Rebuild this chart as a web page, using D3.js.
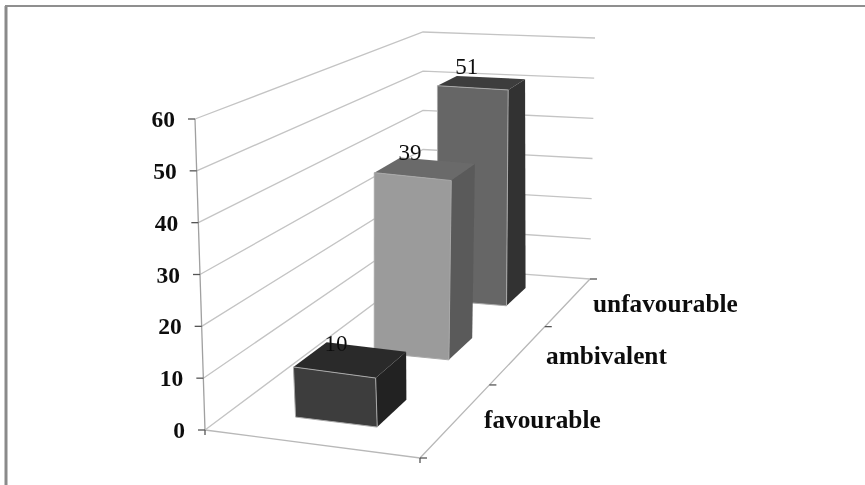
<!DOCTYPE html>
<html>
<head>
<meta charset="utf-8">
<script src="https://cdn.jsdelivr.net/npm/d3@7"></script>
<style>
  html, body { margin: 0; padding: 0; background: #fff; }
  svg { display: block; }
  text { font-family: "Liberation Serif", serif; fill: #111; }
</style>
</head>
<body>
<script>
let width = 865,
    height = 485;

let categories = ["favourable", "ambivalent", "unfavourable"];
let values = [10, 39, 51];
let yTicks = [0, 10, 20, 30, 40, 50, 60];

let barFront = ["#3d3d3d", "#9b9b9b", "#666666"];
let barTop = ["#2c2c2c", "#6b6b6b", "#3c3c3c"];
let barSide = ["#232323", "#5a5a5a", "#333333"];

let catLabelX = [484, 546, 593];
let catLabelY = [428, 364, 312];

let svg = d3.select("body")
            .append("svg")
            .attr("width", width)
            .attr("height", height);

// the reference is a soft scan, so everything gets a slight blur
svg.append("filter").attr("id", "soft")
   .append("feGaussianBlur").attr("stdDeviation", 0.5);

let chart = svg.append("g").attr("filter", "url(#soft)");

// picture frame
chart.append("path")
   .attr("d", "M6,6V485")
   .attr("stroke", "#8a8a8a")
   .attr("stroke-width", 3);
chart.append("path")
   .attr("d", "M5,6H865")
   .attr("stroke", "#8f8f8f")
   .attr("stroke-width", 2);

// unit square to screen quad, corners given as front-left, front-right, back-right, back-left
function quadMap(fl, fr, br, bl) {
    let sx = fl[0] - fr[0] + br[0] - bl[0], sy = fl[1] - fr[1] + br[1] - bl[1];
    let dx1 = fr[0] - br[0], dx2 = bl[0] - br[0], dy1 = fr[1] - br[1], dy2 = bl[1] - br[1];
    let den = dx1 * dy2 - dx2 * dy1;
    let g = (sx * dy2 - dx2 * sy) / den, h = (dx1 * sy - sx * dy1) / den;
    let a = fr[0] - fl[0] + g * fr[0], b = bl[0] - fl[0] + h * bl[0];
    let d = fr[1] - fl[1] + g * fr[1], e = bl[1] - fl[1] + h * bl[1];
    return function(u, v) {
        let q = g * u + h * v + 1;
        return [(a * u + b * v + fl[0]) / q, (d * u + e * v + fl[1]) / q];
    };
}

let floorMap = quadMap([205, 430], [420, 458], [590, 279], [423, 267]);
let ceilMap = quadMap([195, 119], [421, 172], [595, 38], [423, 32]);

function project(u, v, w) {
    let p0 = floorMap(u, v), p1 = ceilMap(u, v);
    return [p0[0] + (p1[0] - p0[0]) * w, p0[1] + (p1[1] - p0[1]) * w];
}

let yScale = d3.scaleLinear().domain([0, 60]).range([0, 1]);
let depthScale = d3.scaleBand().domain(categories).range([0, 1]).paddingInner(0.62).paddingOuter(0.285);
let uScale = d3.scaleLinear().domain([0, 1]).range([0.315, 0.705]);

let line = d3.line();

// gridlines on the two walls
chart.append("g").selectAll("path")
   .data(yTicks)
   .enter()
   .append("path")
   .attr("d", t => line([project(0, 0, yScale(t)), project(0, 1, yScale(t)), project(1, 1, yScale(t))]))
   .attr("fill", "none")
   .attr("stroke", "#c4c4c4")
   .attr("stroke-width", 1.3);

// y axis, floor edges
chart.append("path")
   .attr("d", line([project(0, 0, 1), project(0, 0, 0)]))
   .attr("stroke", "#a0a0a0").attr("stroke-width", 1.3).attr("fill", "none");
chart.append("path")
   .attr("d", line([project(0, 0, 0), project(1, 0, 0), project(1, 1, 0)]))
   .attr("stroke", "#b8b8b8").attr("stroke-width", 1.3).attr("fill", "none");

// y ticks and labels
let tickG = chart.append("g").selectAll("g").data(yTicks).enter().append("g")
   .attr("transform", t => "translate(" + project(0, 0, yScale(t)) + ")");
tickG.append("path").attr("d", "M-7,0H0").attr("stroke", "#555").attr("stroke-width", 1.3);
tickG.append("text")
   .attr("x", -20).attr("y", 8)
   .attr("text-anchor", "end")
   .attr("font-size", 23.5)
   .attr("font-weight", "bold")
   .text(t => t);

// depth ticks along the right floor edge
chart.append("g").selectAll("path")
   .data(d3.range(categories.length + 1))
   .enter()
   .append("path")
   .attr("d", i => {
       let p = project(1, i / categories.length, 0);
       return line([p, [p[0] + 7, p[1]]]);
   })
   .attr("stroke", "#555").attr("stroke-width", 1.3);

// short stubs under the front floor edge
chart.append("g").selectAll("path")
   .data([0, 1])
   .enter()
   .append("path")
   .attr("d", u => {
       let p = project(u, 0, 0);
       return line([p, [p[0], p[1] + 5]]);
   })
   .attr("stroke", "#555").attr("stroke-width", 1.3);

// category labels
chart.append("g").selectAll("text")
   .data(categories)
   .enter()
   .append("text")
   .attr("x", (c, i) => catLabelX[i])
   .attr("y", (c, i) => catLabelY[i])
   .attr("font-size", 25.3)
   .attr("font-weight", "bold")
   .text(c => c);

// bars, back to front
let order = d3.range(categories.length).reverse();
let bars = chart.append("g").selectAll("g").data(order).enter().append("g");

function face(i, pts) {
    return line(pts.map(p => project(uScale(p[0]), depthScale(categories[i]) + p[1] * depthScale.bandwidth(), yScale(p[2] * values[i]))));
}

bars.append("path")
    .attr("d", i => face(i, [[0, 1, 1], [1, 1, 1], [1, 0, 1], [0, 0, 1]]) + "Z")
    .attr("fill", i => barTop[i]);
bars.append("path")
    .attr("d", i => face(i, [[1, 0, 0], [1, 1, 0], [1, 1, 1], [1, 0, 1]]) + "Z")
    .attr("fill", i => barSide[i]);
bars.append("path")
    .attr("d", i => face(i, [[0, 0, 0], [1, 0, 0], [1, 0, 1], [0, 0, 1]]) + "Z")
    .attr("fill", i => barFront[i])
    .attr("stroke", "#a8a8a8")
    .attr("stroke-width", 1);

// value labels sit up and left of the middle of each bar top
chart.append("g").selectAll("text")
   .data(values)
   .enter()
   .append("text")
   .attr("transform", (v, i) => {
       let p = project(uScale(0.5), depthScale(categories[i]) + depthScale.bandwidth() / 2, yScale(v));
       return "translate(" + (p[0] - 14) + "," + (p[1] - 8) + ")";
   })
   .attr("text-anchor", "middle")
   .attr("font-size", 23)
   .text(v => v);
</script>
</body>
</html>
